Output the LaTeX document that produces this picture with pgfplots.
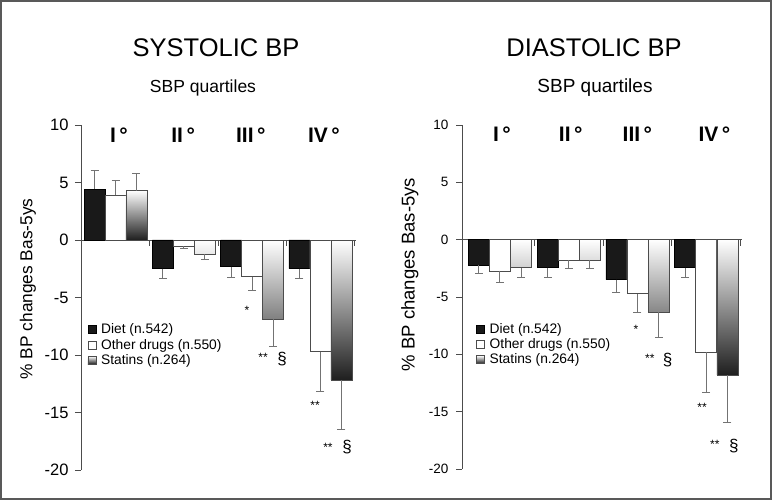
\documentclass[border=0pt]{standalone}
\usepackage{pgfplots}
\pgfplotsset{compat=1.18}
\usepackage{fontspec}
\setmainfont{Liberation Sans}
\definecolor{dietc}{gray}{0.1}
\definecolor{linec}{gray}{0.3}
\tikzset{
  roman/.style={font=\fontsize{21}{25}\selectfont\bfseries},
  star/.style={anchor=base, font=\fontsize{12}{14}\selectfont, yshift=-7pt},
  sect/.style={font=\fontsize{17}{20}\selectfont},
}
\pgfplotsset{
  bpaxis/.style={
    scale only axis,
    axis x line=middle, axis y line=left,
    axis line style={-, linec, line width=0.9pt},
    ymin=-20, ymax=10, ytick={-20,-15,...,10},
    xtick={0.5,1.5,2.5,3.5}, xticklabels={},
    tick align=outside, major tick length=6pt,
    tick style={linec, line width=0.9pt},
    /pgf/number format/assume math mode=true,
    clip=false,
    legend cell align=left,
    legend image code/.code={\draw[##1] (0pt,-4pt) rectangle (8pt,4pt); \pgfpathmoveto{\pgfqpoint{12pt}{0pt}}\pgfusepath{discard}},
    legend style={draw=none, fill=none, anchor=north west, inner sep=0pt,
      font=\fontsize{13.8}{16}\selectfont, row sep=1.5pt, column sep=0pt,
      nodes={inner sep=1.2pt}},
  },
  dietbar/.style={ybar, bar width=21pt, bar shift=0pt, fill=dietc, draw=black, line width=0.5pt},
  othbar/.style={ybar, bar width=21pt, bar shift=0pt, fill=white, draw=linec, line width=0.7pt},
  statbar/.style={ybar, bar width=21pt, bar shift=0pt, top color=white, bottom color=black!88, draw=linec, line width=0.5pt},
  errm/.style={error bars/y dir=minus, error bars/y explicit,
     error bars/error bar style={black!55, line width=0.8pt},
     error bars/error mark options={black!55, line width=0.8pt, mark size=4pt, rotate=90}},
  errp/.style={error bars/y dir=plus, error bars/y explicit,
     error bars/error bar style={black!55, line width=0.8pt},
     error bars/error mark options={black!55, line width=0.8pt, mark size=4pt, rotate=90}},
}
\begin{document}
\begin{tikzpicture}
\useasboundingbox (0pt,0pt) rectangle (772pt,500pt);
\draw[black!65, line width=1.6pt] (0.8pt,0.8pt) rectangle (771.2pt,499.2pt);
\node[font=\fontsize{25.5}{30}\selectfont] at (216pt,452pt) {SYSTOLIC BP};
\node[font=\fontsize{25.5}{30}\selectfont] at (594pt,452pt) {DIASTOLIC BP};
\node[font=\fontsize{17.5}{21}\selectfont] at (203pt,412pt) {SBP quartiles};
\node[font=\fontsize{19}{23}\selectfont] at (595pt,412pt) {SBP quartiles};

% ---------------- SYSTOLIC ----------------
\begin{axis}[bpaxis, at={(81pt,30pt)}, anchor=south west,
  width=275pt, height=345pt, xmin=-0.505, xmax=3.52,
  yticklabel style={font=\fontsize{16.5}{19}\selectfont, xshift=-3pt},
  legend style={at={(axis cs:-0.41,-7.15)}}]
\addplot[dietbar, errp, forget plot] coordinates {(-0.307,4.45) += (0,1.6)};
\addplot[dietbar, errm, forget plot] coordinates {(0.693,-2.49) -= (0,0.87) (1.693,-2.32) -= (0,0.93) (2.693,-2.49) -= (0,0.87)};
\addplot[othbar, errp, forget plot] coordinates {(0,3.89) += (0,1.31)};
\addplot[othbar, errm, forget plot] coordinates {(1,-0.55) -= (0,0.17) (2,-3.19) -= (0,1.19) (3,-9.71) -= (0,3.48)};
\addplot[statbar, errp, forget plot] coordinates {(0.307,4.29) += (0,1.5)};
\addplot[statbar, errm, forget plot] coordinates {(1.307,-1.25) -= (0,0.46) (2.307,-6.9) -= (0,2.38) (3.307,-12.17) -= (0,4.29)};
\addlegendimage{fill=dietc, draw=black}
\addlegendentry{Diet (n.542)}
\addlegendimage{fill=white, draw=linec}
\addlegendentry{Other drugs (n.550)}
\addlegendimage{top color=white, bottom color=black!88, draw=linec}
\addlegendentry{Statins (n.264)}
\node[roman] at (axis cs:0.05,9.13) {I\,°};
\node[roman] at (axis cs:0.99,9.13) {II\,°};
\node[roman] at (axis cs:1.98,9.13) {III\,°};
\node[roman] at (axis cs:3.05,9.13) {IV\,°};
\node[star] at (axis cs:1.925,-5.91) {*};
\node[star] at (axis cs:2.159,-10.0) {**};
\node[sect] at (axis cs:2.437,-10.35) {§};
\node[star] at (axis cs:2.92,-14.09) {**};
\node[star] at (axis cs:3.11,-17.74) {**};
\node[sect] at (axis cs:3.39,-18.0) {§};
\node[rotate=90, font=\fontsize{17.3}{20}\selectfont] at (axis description cs:-0.193,0.525) {\% BP changes Bas-5ys};
\end{axis}

% ---------------- DIASTOLIC ----------------
\begin{axis}[bpaxis, at={(462pt,31pt)}, anchor=south west,
  width=280pt, height=344pt, xmin=-0.55, xmax=3.52,
  yticklabel style={font=\fontsize{13.5}{16}\selectfont, xshift=-4pt},
  legend style={at={(axis cs:-0.345,-7.15)}}]
\addplot[dietbar, errm, forget plot] coordinates {(-0.307,-2.2) -= (0,0.78) (0.693,-2.43) -= (0,0.9) (1.693,-3.48) -= (0,1.16) (2.693,-2.43) -= (0,0.9)};
\addplot[othbar, errm, forget plot] coordinates {(0,-2.72) -= (0,1.02) (1,-1.8) -= (0,0.72) (2,-4.72) -= (0,1.65) (3,-9.8) -= (0,3.48)};
\addplot[statbar, errm, forget plot] coordinates {(0.307,-2.43) -= (0,0.9) (1.307,-1.8) -= (0,0.72) (2.307,-6.32) -= (0,2.23) (3.307,-11.8) -= (0,4.14)};
\addlegendimage{fill=dietc, draw=black}
\addlegendentry{Diet (n.542)}
\addlegendimage{fill=white, draw=linec}
\addlegendentry{Other drugs (n.550)}
\addlegendimage{top color=white, bottom color=black!88, draw=linec}
\addlegendentry{Statins (n.264)}
\node[roman] at (axis cs:0.03,9.17) {I\,°};
\node[roman] at (axis cs:1.03,9.17) {II\,°};
\node[roman] at (axis cs:2.0,9.17) {III\,°};
\node[roman] at (axis cs:3.12,9.17) {IV\,°};
\node[star] at (axis cs:1.98,-7.6) {*};
\node[star] at (axis cs:2.18,-10.13) {**};
\node[sect] at (axis cs:2.44,-10.48) {§};
\node[star] at (axis cs:2.94,-14.4) {**};
\node[star] at (axis cs:3.125,-17.61) {**};
\node[sect] at (axis cs:3.4,-17.96) {§};
\node[rotate=90, font=\fontsize{18.5}{22}\selectfont] at (axis description cs:-0.186,0.565) {\% BP changes Bas-5ys};
\end{axis}
\end{tikzpicture}
\end{document}
